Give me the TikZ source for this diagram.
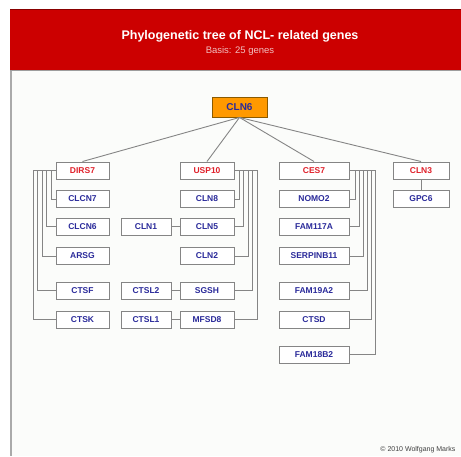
\documentclass[tikz,border=0pt]{standalone}
\usepackage{fontspec}
\setmainfont{Liberation Sans}
\definecolor{bandred}{HTML}{CC0000}
\definecolor{banddark}{HTML}{880000}
\definecolor{bgpaper}{HTML}{FBFCFA}
\definecolor{headred}{HTML}{E0202A}
\definecolor{genblue}{HTML}{2A2A9A}
\definecolor{lineg}{HTML}{858585}
\definecolor{cln6fill}{HTML}{FF9900}
\definecolor{cln6edge}{HTML}{8A5A00}
\tikzset{
  gbox/.style={draw=lineg, fill=white, line width=1pt, inner sep=0pt,
    minimum height=17pt, font=\fontsize{8.5}{9}\selectfont\bfseries, text=genblue},
  hbox/.style={gbox, text=headred},
  rootbox/.style={draw=cln6edge, fill=cln6fill, line width=0.9pt, inner sep=0pt,
    minimum width=55pt, minimum height=20pt, font=\fontsize{10}{11}\selectfont\bfseries, text=genblue},
  conn/.style={draw=lineg, line width=0.9pt},
}
\begin{document}
\begin{tikzpicture}[x=1pt,y=-1pt]
\useasboundingbox (0,0) rectangle (461,456);
\fill[white] (0,0) rectangle (461,456);
% paper
\fill[bgpaper] (10,9) rectangle (461,456);
\draw[lineg!70, line width=1.5pt] (10.75,9) -- (10.75,456);
% band
\fill[bandred] (10,9) rectangle (461,70);
\draw[banddark, line width=1pt] (10,9.5) -- (461,9.5);
\draw[lineg!80, line width=1.2pt] (10,70.6) -- (461,70.6);
\node[text=white, font=\fontsize{12.5}{14}\selectfont\bfseries] (title) at (240,36) {Phylogenetic tree of NCL- related genes};
\node[text=white!75!bandred, font=\fontsize{9.5}{11}\selectfont] (subtitle) at (240,51.5) {Basis: 25 genes};
\node[text=black!75, font=\fontsize{7}{8}\selectfont, anchor=east] (copy) at (459,450) {© 2010 Wolfgang Marks};

% root
\node[rootbox] (CLN6) at (239.5,107) {CLN6};

% column 1
\node[hbox, minimum width=53pt] (DIRS7) at (82.5,170.5) {DIRS7};
\node[gbox, minimum width=53pt] (CLCN7) at (82.5,199) {CLCN7};
\node[gbox, minimum width=53pt] (CLCN6) at (82.5,226.5) {CLCN6};
\node[gbox, minimum width=53pt] (ARSG) at (82.5,256) {ARSG};
\node[gbox, minimum width=53pt] (CTSF) at (82.5,290.5) {CTSF};
\node[gbox, minimum width=53pt] (CTSK) at (82.5,319.5) {CTSK};

% column 2
\node[gbox, minimum width=50pt] (CLN1) at (146,226.5) {CLN1};
\node[gbox, minimum width=50pt] (CTSL2) at (146,290.5) {CTSL2};
\node[gbox, minimum width=50pt] (CTSL1) at (146,319.5) {CTSL1};

% column 3
\node[hbox, minimum width=54pt] (USP10) at (207,170.5) {USP10};
\node[gbox, minimum width=54pt] (CLN8) at (207,199) {CLN8};
\node[gbox, minimum width=54pt] (CLN5) at (207,226.5) {CLN5};
\node[gbox, minimum width=54pt] (CLN2) at (207,256) {CLN2};
\node[gbox, minimum width=54pt] (SGSH) at (207,290.5) {SGSH};
\node[gbox, minimum width=54pt] (MFSD8) at (207,319.5) {MFSD8};

% column 4
\node[hbox, minimum width=70pt] (CES7) at (314,170.5) {CES7};
\node[gbox, minimum width=70pt] (NOMO2) at (314,199) {NOMO2};
\node[gbox, minimum width=70pt] (FAM117A) at (314,226.5) {FAM117A};
\node[gbox, minimum width=70pt] (SERPINB11) at (314,256) {SERPINB11};
\node[gbox, minimum width=70pt] (FAM19A2) at (314,290.5) {FAM19A2};
\node[gbox, minimum width=70pt] (CTSD) at (314,319.5) {CTSD};
\node[gbox, minimum width=70pt] (FAM18B2) at (314,354.5) {FAM18B2};

% column 5
\node[hbox, minimum width=56pt] (CLN3) at (421,170.5) {CLN3};
\node[gbox, minimum width=56pt] (GPC6) at (421,199) {GPC6};

% root connectors
\foreach \c in {DIRS7,USP10,CES7,CLN3}
  \draw[conn] (CLN6.south) -- (\c.north);

% DIRS7 comb (left side)
\draw[conn] (CLCN7.west) -- ++(-4.5,0) |- (DIRS7.west);
\draw[conn] (CLCN6.west) -- ++(-9,0) |- (DIRS7.west);
\draw[conn] (ARSG.west) -- ++(-13.5,0) |- (DIRS7.west);
\draw[conn] (CTSF.west) -- ++(-18,0) |- (DIRS7.west);
\draw[conn] (CTSK.west) -- ++(-22.5,0) |- (DIRS7.west);

% USP10 comb (right side)
\draw[conn] (CLN8.east) -- ++(4.5,0) |- (USP10.east);
\draw[conn] (CLN5.east) -- ++(9,0) |- (USP10.east);
\draw[conn] (CLN2.east) -- ++(13.5,0) |- (USP10.east);
\draw[conn] (SGSH.east) -- ++(18,0) |- (USP10.east);
\draw[conn] (MFSD8.east) -- ++(22.5,0) |- (USP10.east);

% pairs
\draw[conn] (CLN1.east) -- (CLN5.west);
\draw[conn] (CTSL2.east) -- (SGSH.west);
\draw[conn] (CTSL1.east) -- (MFSD8.west);

% CES7 comb (right side)
\draw[conn] (NOMO2.east) -- ++(6,0) |- (CES7.east);
\draw[conn] (FAM117A.east) -- ++(10,0) |- (CES7.east);
\draw[conn] (SERPINB11.east) -- ++(14,0) |- (CES7.east);
\draw[conn] (FAM19A2.east) -- ++(18,0) |- (CES7.east);
\draw[conn] (CTSD.east) -- ++(22,0) |- (CES7.east);
\draw[conn] (FAM18B2.east) -- ++(26,0) |- (CES7.east);

% CLN3
\draw[conn] (CLN3.south) -- (GPC6.north);
\end{tikzpicture}
\end{document}
